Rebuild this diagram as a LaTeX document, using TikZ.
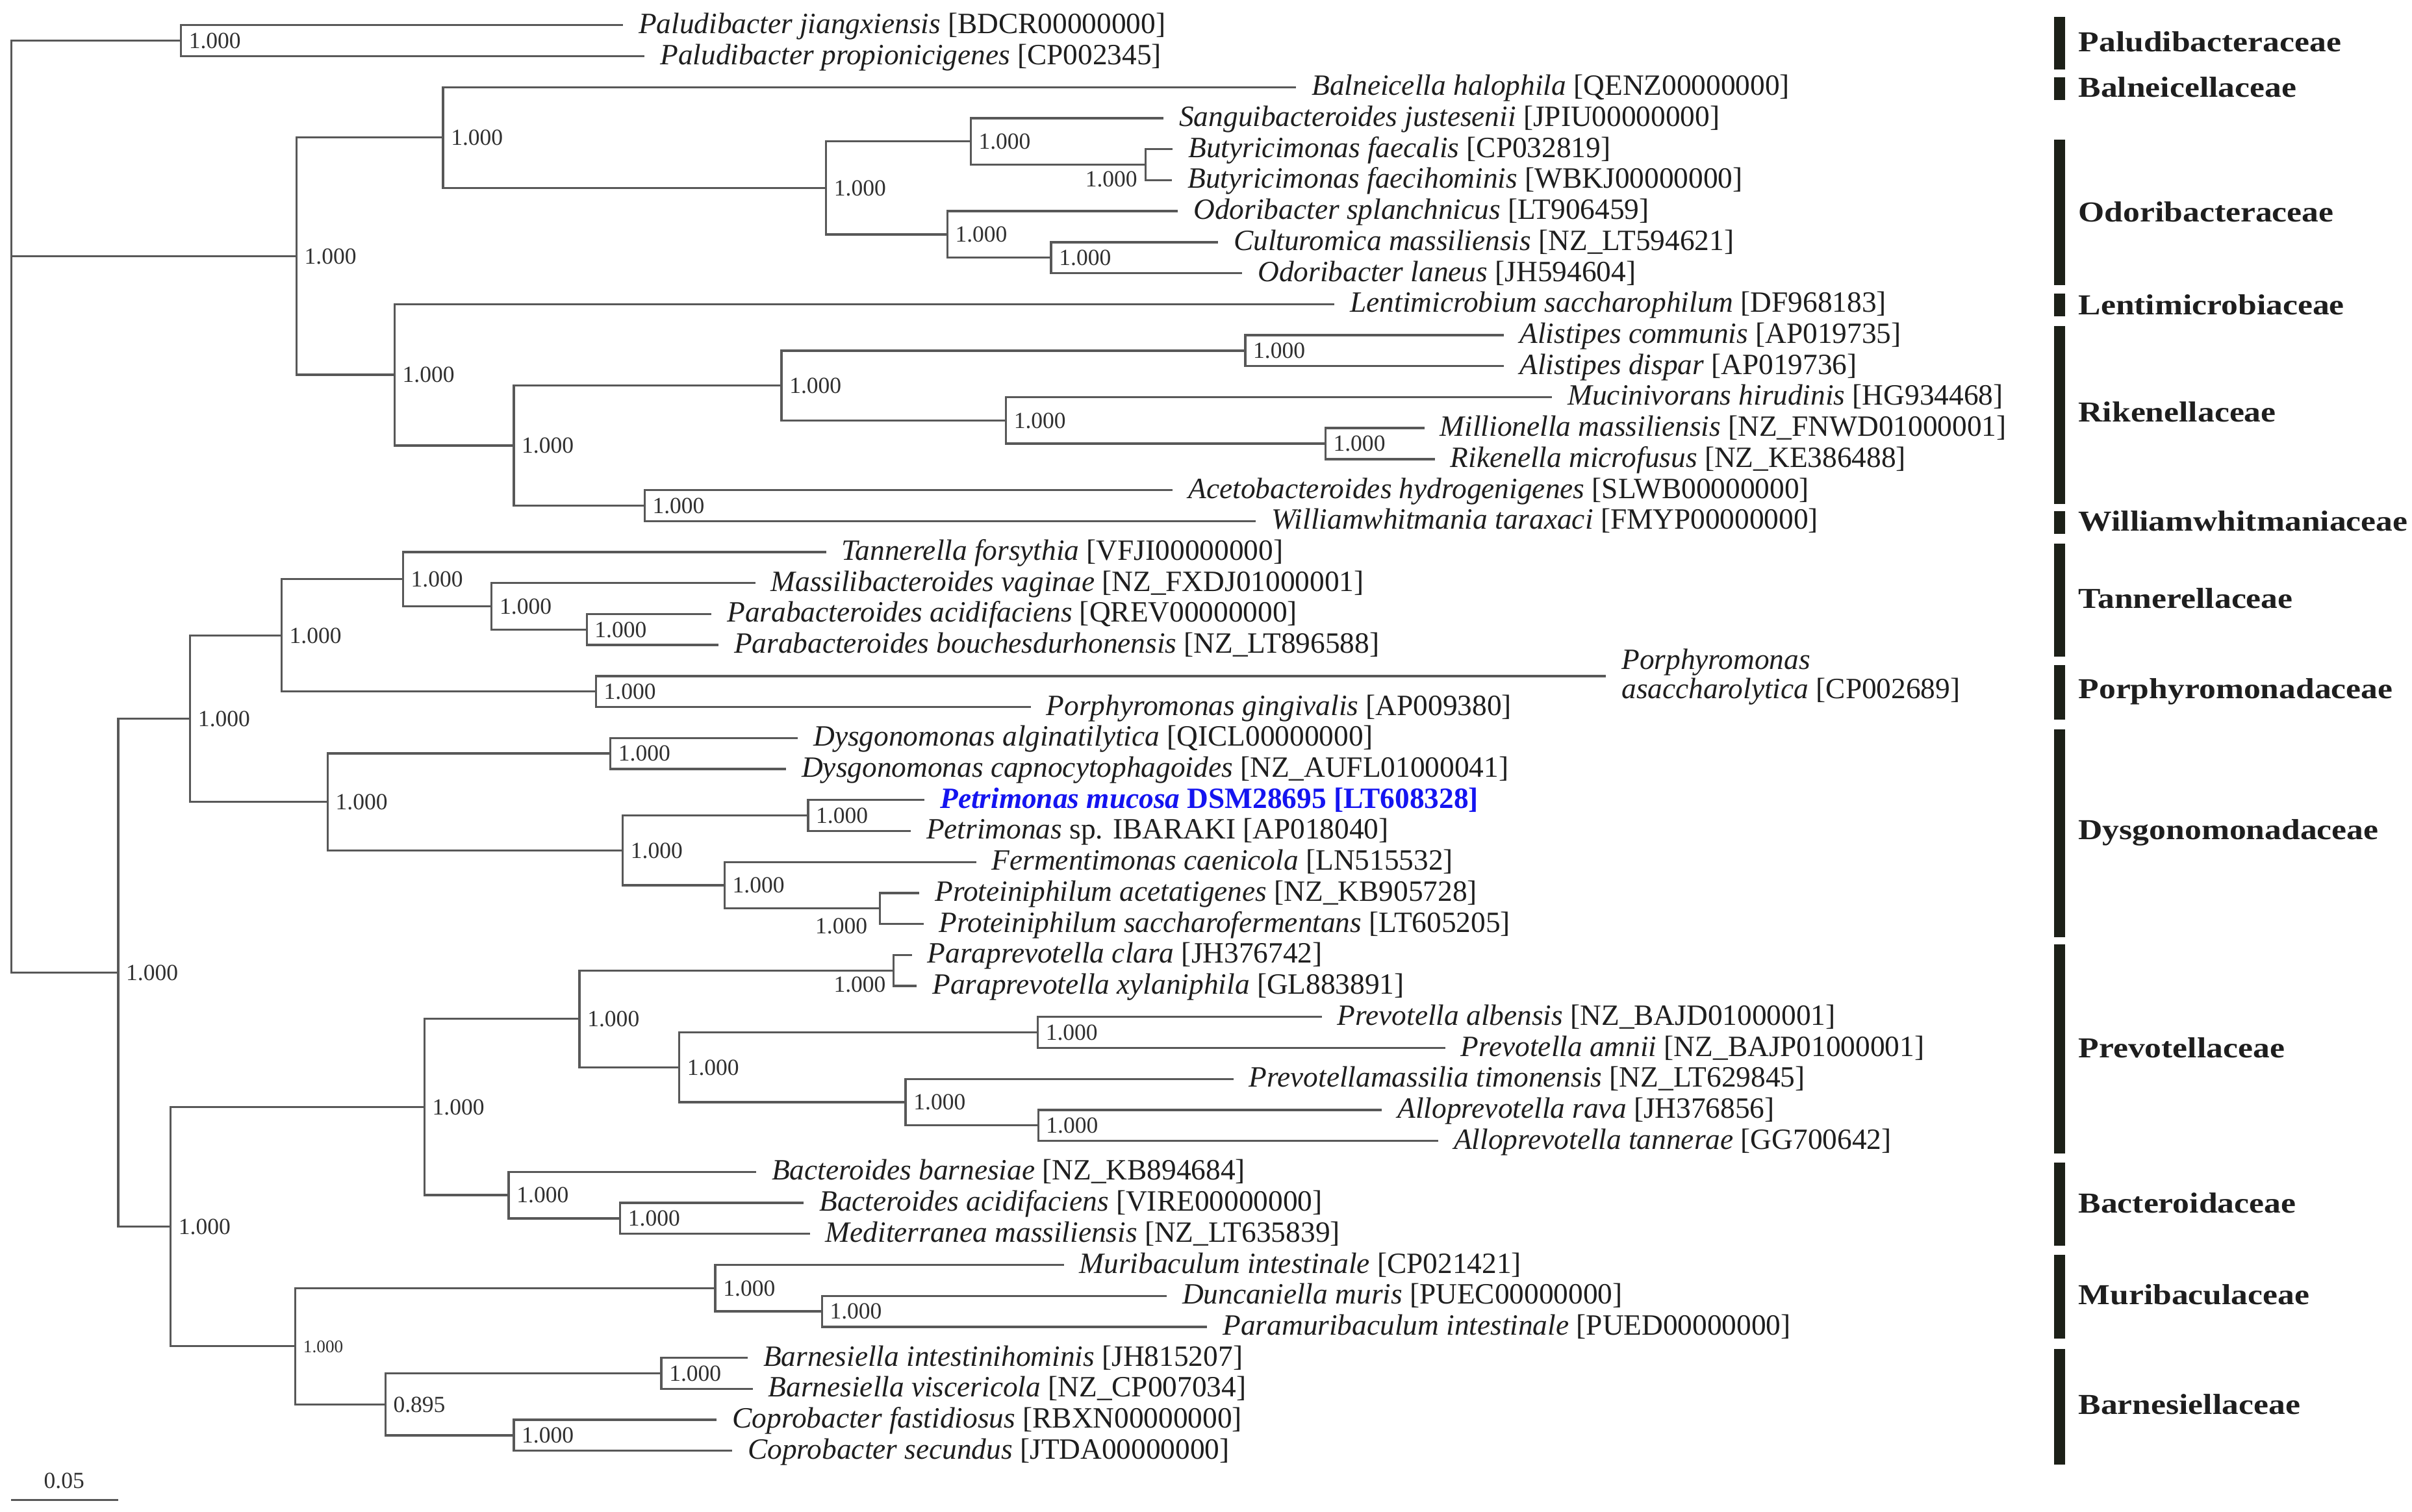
\documentclass[tikz,border=0pt]{standalone}
\usepackage{fontspec}
\setmainfont{Liberation Serif}
\newfontfamily\famfont[FakeStretch=1.16]{Liberation Serif}
\usetikzlibrary{calc}
\definecolor{linegray}{HTML}{585858}
\definecolor{txt}{HTML}{1E1E1E}
\definecolor{numcol}{HTML}{303030}
\definecolor{barcol}{HTML}{1C2018}
\definecolor{petblue}{HTML}{1414F0}
\tikzset{
  br/.style={draw=linegray, line width=1.4pt},
  leaf/.style={anchor=base west, inner sep=0pt, text=txt, font=\fontsize{19.15}{19}\selectfont},
  bs/.style={anchor=base west, inner sep=0pt, text=numcol, font=\fontsize{15}{15}\selectfont},
  bssmall/.style={anchor=base west, inner sep=0pt, text=numcol, font=\fontsize{11.5}{11.5}\selectfont},
  famlab/.style={anchor=base west, inner sep=0pt, text=txt, font=\famfont\bfseries\fontsize{18.8}{19}\selectfont},
  barfill/.style={fill=barcol, draw=none}
}
\newcommand\mkleaf[5]{%
  \coordinate (#1) at (#3,{16.4+20.15*(#2-1)});
  \node[leaf] (#1t) at (#3+10,{16.4+20.15*(#2-1)+5.3}) {#5};
  \draw[br] (#4) |- (#1);}
\newcommand\bsl[2]{\node[bs] (s#1) at ([xshift=5pt,yshift=-5pt]#1) {#2};}
\newcommand\mkfam[5]{%
  \fill[barfill] (1335.2,#2) rectangle (1342.5,#3);
  \node[famlab] (#1) at (1351,#4+6.3) {#5};}
\begin{document}
\begin{tikzpicture}[x=1pt,y=-1pt]
\fill[white] (0,0) rectangle (1568,983);
\useasboundingbox (0,0) rectangle (1568,983);
% internal nodes
\coordinate (root) at (7.3,330);
\coordinate (PAL) at (117.6,26.475);
\coordinate (A) at (192.7,166.58);
\coordinate (B) at (288,89.44);
\coordinate (C) at (537,122.19);
\coordinate (D) at (631,91.96);
\coordinate (F) at (744.7,107.075);
\coordinate (E) at (615.8,152.41);
\coordinate (G) at (683.3,167.525);
\coordinate (H) at (256.5,243.72);
\coordinate (I) at (334,289.68);
\coordinate (J) at (508,250.64);
\coordinate (L) at (809.5,227.975);
\coordinate (M) at (653.9,273.31);
\coordinate (N) at (861.6,288.425);
\coordinate (K) at (419,328.725);
\coordinate (O) at (76.8,632.4);
\coordinate (P) at (123.6,467.26);
\coordinate (Q) at (183,413.10);
\coordinate (R) at (262,376.58);
\coordinate (S) at (319.6,394.21);
\coordinate (T) at (381.4,409.325);
\coordinate (U) at (387.4,449.625);
\coordinate (V) at (213,521.41);
\coordinate (W) at (396.8,489.925);
\coordinate (X) at (404.8,552.89);
\coordinate (Y) at (525.3,530.225);
\coordinate (Z) at (471,575.56);
\coordinate (AA) at (572,590.675);
\coordinate (BB) at (110.9,797.53);
\coordinate (CC) at (275.9,719.76);
\coordinate (DD) at (376.7,662.46);
\coordinate (EE) at (581,630.975);
\coordinate (FF) at (441.5,693.94);
\coordinate (GG) at (674.6,671.275);
\coordinate (HH) at (588.7,716.61);
\coordinate (II) at (674.9,731.725);
\coordinate (JJ) at (330.7,777.06);
\coordinate (KK) at (403.1,792.175);
\coordinate (LL) at (192,875.29);
\coordinate (MM) at (465,837.51);
\coordinate (NN) at (534.3,852.625);
\coordinate (OO) at (250.5,913.075);
\coordinate (PP) at (429.9,892.925);
\coordinate (QQ) at (334,933.225);
% internal branches
\draw[br] (root) |- (PAL);
\draw[br] (root) |- (A);
\draw[br] (root) |- (O);
\draw[br] (A) |- (B);
\draw[br] (A) |- (H);
\draw[br] (B) |- (C);
\draw[br] (C) |- (D);
\draw[br] (C) |- (E);
\draw[br] (D) |- (F);
\draw[br] (E) |- (G);
\draw[br] (H) |- (I);
\draw[br] (I) |- (J);
\draw[br] (I) |- (K);
\draw[br] (J) |- (L);
\draw[br] (J) |- (M);
\draw[br] (M) |- (N);
\draw[br] (O) |- (P);
\draw[br] (O) |- (BB);
\draw[br] (P) |- (Q);
\draw[br] (P) |- (V);
\draw[br] (Q) |- (R);
\draw[br] (Q) |- (U);
\draw[br] (R) |- (S);
\draw[br] (S) |- (T);
\draw[br] (V) |- (W);
\draw[br] (V) |- (X);
\draw[br] (X) |- (Y);
\draw[br] (X) |- (Z);
\draw[br] (Z) |- (AA);
\draw[br] (BB) |- (CC);
\draw[br] (BB) |- (LL);
\draw[br] (CC) |- (DD);
\draw[br] (CC) |- (JJ);
\draw[br] (DD) |- (EE);
\draw[br] (DD) |- (FF);
\draw[br] (FF) |- (GG);
\draw[br] (FF) |- (HH);
\draw[br] (HH) |- (II);
\draw[br] (JJ) |- (KK);
\draw[br] (LL) |- (MM);
\draw[br] (LL) |- (OO);
\draw[br] (MM) |- (NN);
\draw[br] (OO) |- (PP);
\draw[br] (OO) |- (QQ);
% leaves
\mkleaf{l1}{1}{405}{PAL}{\textit{Paludibacter jiangxiensis} [BDCR00000000]}
\mkleaf{l2}{2}{419}{PAL}{\textit{Paludibacter propionicigenes} [CP002345]}
\mkleaf{l3}{3}{842.6}{B}{\textit{Balneicella halophila} [QENZ00000000]}
\mkleaf{l4}{4}{756.4}{D}{\textit{Sanguibacteroides justesenii} [JPIU00000000]}
\mkleaf{l5}{5}{762.4}{F}{\textit{Butyricimonas faecalis} [CP032819]}
\mkleaf{l6}{6}{762}{F}{\textit{Butyricimonas faecihominis} [WBKJ00000000]}
\mkleaf{l7}{7}{765.8}{E}{\textit{Odoribacter splanchnicus} [LT906459]}
\mkleaf{l8}{8}{791.8}{G}{\textit{Culturomica massiliensis} [NZ\_LT594621]}
\mkleaf{l9}{9}{807.5}{G}{\textit{Odoribacter laneus} [JH594604]}
\mkleaf{l10}{10}{867.6}{H}{\textit{Lentimicrobium saccharophilum} [DF968183]}
\mkleaf{l11}{11}{977.8}{L}{\textit{Alistipes communis} [AP019735]}
\mkleaf{l12}{12}{977.8}{L}{\textit{Alistipes dispar} [AP019736]}
\mkleaf{l13}{13}{1009}{M}{\textit{Mucinivorans hirudinis} [HG934468]}
\mkleaf{l14}{14}{926}{N}{\textit{Millionella massiliensis} [NZ\_FNWD01000001]}
\mkleaf{l15}{15}{932.7}{N}{\textit{Rikenella microfusus} [NZ\_KE386488]}
\mkleaf{l16}{16}{762.4}{K}{\textit{Acetobacteroides hydrogenigenes} [SLWB00000000]}
\mkleaf{l17}{17}{816.5}{K}{\textit{Williamwhitmania taraxaci} [FMYP00000000]}
\mkleaf{l18}{18}{537}{R}{\textit{Tannerella forsythia} [VFJI00000000]}
\mkleaf{l19}{19}{491}{S}{\textit{Massilibacteroides vaginae} [NZ\_FXDJ01000001]}
\mkleaf{l20}{20}{462.6}{T}{\textit{Parabacteroides acidifaciens} [QREV00000000]}
\mkleaf{l21}{21}{467}{T}{\textit{Parabacteroides bouchesdurhonensis} [NZ\_LT896588]}
% two-line leaf
\coordinate (l22) at (1044,439.55);
\node[leaf] (l22a) at (1054,435.1) {\textit{Porphyromonas}};
\node[leaf] (l22b) at (1054,454.0) {\textit{asaccharolytica} [CP002689]};
\draw[br] (U) |- (l22);
\mkleaf{l23}{23}{670}{U}{\textit{Porphyromonas gingivalis} [AP009380]}
\mkleaf{l24}{24}{518.7}{W}{\textit{Dysgonomonas alginatilytica} [QICL00000000]}
\mkleaf{l25}{25}{511}{W}{\textit{Dysgonomonas capnocytophagoides} [NZ\_AUFL01000041]}
\mkleaf{l26}{26}{601}{Y}{\textcolor{petblue}{\bfseries\textit{Petrimonas mucosa} DSM28695 [LT608328]}}
\mkleaf{l27}{27}{592}{Y}{\textit{Petrimonas} sp. IBARAKI [AP018040]}
\mkleaf{l28}{28}{634.5}{Z}{\textit{Fermentimonas caenicola} [LN515532]}
\mkleaf{l29}{29}{597.7}{AA}{\textit{Proteiniphilum acetatigenes} [NZ\_KB905728]}
\mkleaf{l30}{30}{600.4}{AA}{\textit{Proteiniphilum saccharofermentans} [LT605205]}
\mkleaf{l31}{31}{592.7}{EE}{\textit{Paraprevotella clara} [JH376742]}
\mkleaf{l32}{32}{596}{EE}{\textit{Paraprevotella xylaniphila} [GL883891]}
\mkleaf{l33}{33}{859.3}{GG}{\textit{Prevotella albensis} [NZ\_BAJD01000001]}
\mkleaf{l34}{34}{939.4}{GG}{\textit{Prevotella amnii} [NZ\_BAJP01000001]}
\mkleaf{l35}{35}{801.8}{HH}{\textit{Prevotellamassilia timonensis} [NZ\_LT629845]}
\mkleaf{l36}{36}{898.4}{II}{\textit{Alloprevotella rava} [JH376856]}
\mkleaf{l37}{37}{935}{II}{\textit{Alloprevotella tannerae} [GG700642]}
\mkleaf{l38}{38}{491.6}{JJ}{\textit{Bacteroides barnesiae} [NZ\_KB894684]}
\mkleaf{l39}{39}{522.5}{KK}{\textit{Bacteroides acidifaciens} [VIRE00000000]}
\mkleaf{l40}{40}{526.5}{KK}{\textit{Mediterranea massiliensis} [NZ\_LT635839]}
\mkleaf{l41}{41}{691.6}{MM}{\textit{Muribaculum intestinale} [CP021421]}
\mkleaf{l42}{42}{758.4}{NN}{\textit{Duncaniella muris} [PUEC00000000]}
\mkleaf{l43}{43}{784.8}{NN}{\textit{Paramuribaculum intestinale} [PUED00000000]}
\mkleaf{l44}{44}{486}{PP}{\textit{Barnesiella intestinihominis} [JH815207]}
\mkleaf{l45}{45}{489.3}{PP}{\textit{Barnesiella viscericola} [NZ\_CP007034]}
\mkleaf{l46}{46}{466}{QQ}{\textit{Coprobacter fastidiosus} [RBXN00000000]}
\mkleaf{l47}{47}{476}{QQ}{\textit{Coprobacter secundus} [JTDA00000000]}
% support values
\bsl{PAL}{1.000}
\bsl{A}{1.000}
\bsl{B}{1.000}
\bsl{C}{1.000}
\bsl{D}{1.000}
\node[bs, anchor=base east] (sF) at (739.5,121.5) {1.000};
\bsl{E}{1.000}
\bsl{G}{1.000}
\bsl{H}{1.000}
\bsl{I}{1.000}
\bsl{J}{1.000}
\bsl{L}{1.000}
\bsl{M}{1.000}
\bsl{N}{1.000}
\bsl{K}{1.000}
\bsl{O}{1.000}
\bsl{P}{1.000}
\bsl{Q}{1.000}
\bsl{R}{1.000}
\bsl{S}{1.000}
\bsl{T}{1.000}
\bsl{U}{1.000}
\bsl{V}{1.000}
\bsl{W}{1.000}
\bsl{X}{1.000}
\bsl{Y}{1.000}
\bsl{Z}{1.000}
\node[bs, anchor=base east] (sAA) at (564,607) {1.000};
\bsl{BB}{1.000}
\bsl{CC}{1.000}
\bsl{DD}{1.000}
\node[bs, anchor=base east] (sEE) at (576,645) {1.000};
\bsl{FF}{1.000}
\bsl{GG}{1.000}
\bsl{HH}{1.000}
\bsl{II}{1.000}
\bsl{JJ}{1.000}
\bsl{KK}{1.000}
\node[bssmall] (sLL) at ([xshift=5pt,yshift=-4pt]LL) {1.000};
\bsl{MM}{1.000}
\bsl{NN}{1.000}
\bsl{OO}{0.895}
\bsl{PP}{1.000}
\bsl{QQ}{1.000}
% scale bar
\coordinate (sb1) at (7.3,975.2);
\coordinate (sb2) at (76.8,975.2);
\draw[br] (sb1) -- (sb2);
\node[bs, anchor=base] (sbl) at (41.7,967.8) {0.05};
% families
\mkfam{f1}{10.9}{45.2}{27.3}{Paludibacteraceae}
\mkfam{f2}{50.4}{65.1}{57}{Balneicellaceae}
\mkfam{f3}{90.8}{185.3}{138}{Odoribacteraceae}
\mkfam{f4}{190.8}{205.5}{198.5}{Lentimicrobiaceae}
\mkfam{f5}{212}{327.5}{268}{Rikenellaceae}
\mkfam{f6}{332.5}{347.3}{339}{Williamwhitmaniaceae}
\mkfam{f7}{353.6}{427.1}{389.3}{Tannerellaceae}
\mkfam{f8}{432.3}{468}{448}{Porphyromonadaceae}
\mkfam{f9}{474.4}{609.4}{539.5}{Dysgonomonadaceae}
\mkfam{f10}{614}{749.8}{681.5}{Prevotellaceae}
\mkfam{f11}{756}{809.8}{782.5}{Bacteroidaceae}
\mkfam{f12}{816}{870.2}{841.8}{Muribaculaceae}
\mkfam{f13}{877}{952.1}{913.2}{Barnesiellaceae}
\end{tikzpicture}
\end{document}
